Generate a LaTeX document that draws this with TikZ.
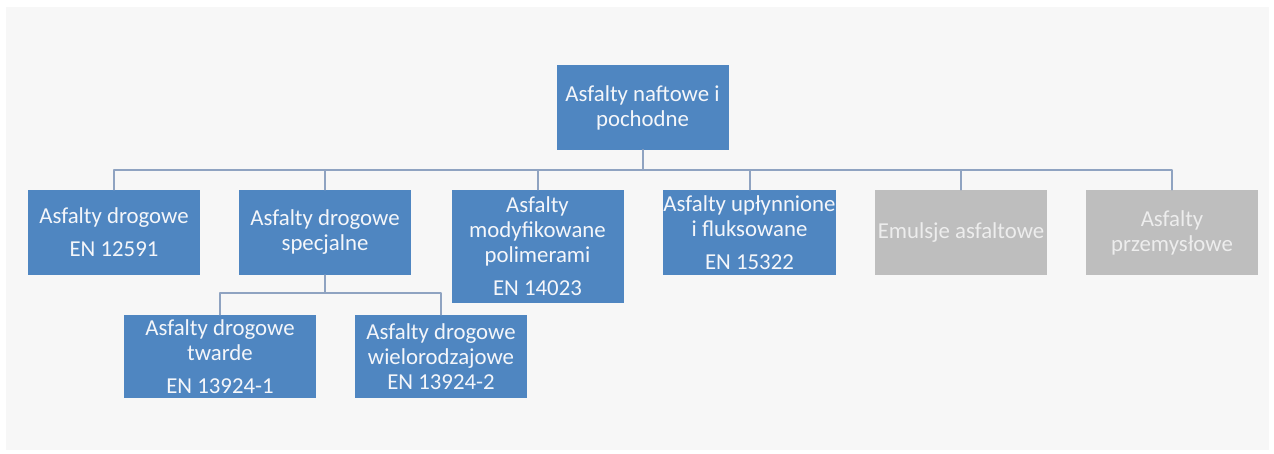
\documentclass[tikz,border=0pt]{standalone}
\usepackage{fontspec}
\setmainfont{Carlito}
\definecolor{panelgray}{HTML}{F7F7F7}
\definecolor{boxblue}{HTML}{4F86C1}
\definecolor{boxgray}{HTML}{BEBEBE}
\definecolor{linkblue}{HTML}{8FA3C1}
\definecolor{lighttext}{HTML}{F4F6FA}
\definecolor{graytext}{HTML}{EDEDED}
\tikzset{
  box/.style={fill=boxblue, text=lighttext, align=center, inner sep=0pt,
    minimum width=86pt, minimum height=42.5pt},
  graybox/.style={box, fill=boxgray, text=graytext},
  link/.style={draw=linkblue, line width=1pt}
}
\begin{document}
\begin{tikzpicture}[x=0.5pt, y=-0.5pt, font=\fontsize{11.4}{12.5}\selectfont, line join=round, line cap=round]
  \def\busy{170}\def\subbusy{293}
  \useasboundingbox (0,0) rectangle (1274,454);
  \fill[white] (0,0) rectangle (1274,454);
  \fill[panelgray] (6,7) rectangle (1269,450);
  \node[box] (root) at (642.5,107.5) {Asfalty naftowe i\\pochodne};
  \node[box] (drogowe) at (114,232.5) {Asfalty drogowe\\[4pt]EN 12591};
  \node[box] (specjalne) at (325,232.5) {Asfalty drogowe\\specjalne};
  \node[box, minimum height=56.5pt] (modyf) at (537.5,246.5) {Asfalty\\modyfikowane\\polimerami\\[4pt]EN 14023};
  \node[box] (uplynnione) at (749.5,232.5) {Asfalty upłynnione\\i fluksowane\\[4pt]EN 15322};
  \node[graybox] (emulsje) at (961,232.5) {Emulsje asfaltowe};
  \node[graybox] (przem) at (1172,232.5) {Asfalty\\przemysłowe};
  \node[box, minimum width=96pt, minimum height=41.5pt] (twarde) at (220,356.5) {Asfalty drogowe\\twarde\\[4pt]EN 13924-1};
  \node[box, minimum height=41.5pt] (wielo) at (441,356.5) {Asfalty drogowe\\wielorodzajowe\\EN 13924-2};
  \foreach \n in {drogowe,specjalne,modyf,uplynnione,emulsje,przem}
    \draw[link] (root.south) -- (root.south |- 0,\busy) -| (\n.north);
  \foreach \n in {twarde,wielo}
    \draw[link] (specjalne.south) -- (specjalne.south |- 0,\subbusy) -| (\n.north);
\end{tikzpicture}
\end{document}
